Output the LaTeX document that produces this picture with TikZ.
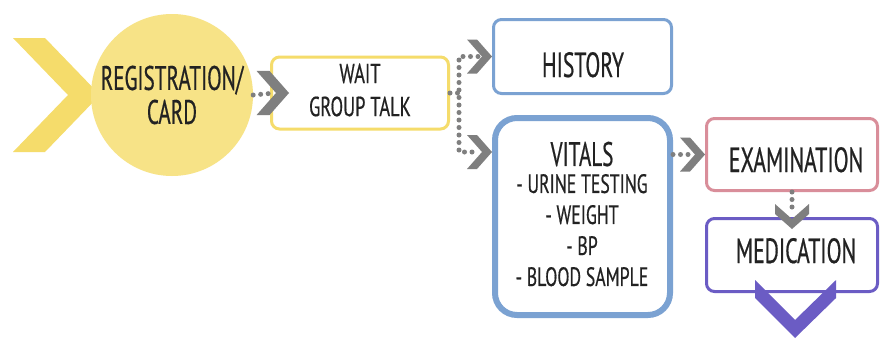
\documentclass[tikz,border=0pt]{standalone}
\usepackage{fontspec}
\newfontfamily\cnd{PT Sans}[FakeStretch=0.62,FakeBold=0.5]
\newfontfamily\cndw{PT Sans}[FakeStretch=0.67,FakeBold=0.5]
\usetikzlibrary{calc}
\definecolor{ylw}{HTML}{F5DC6B}
\definecolor{ylwc}{HTML}{F7E387}
\definecolor{blu}{HTML}{7BA2D2}
\definecolor{pnk}{HTML}{D98E9A}
\definecolor{prp}{HTML}{6B5CC4}
\definecolor{gry}{HTML}{7F7F7F}
\definecolor{ink}{HTML}{222222}
\tikzset{
  box/.style={draw, line width=3pt, rounded corners=8pt, fill=white, inner sep=0pt},
  dots/.style={draw=gry, line width=5pt, line cap=round, dash pattern=on 0pt off 7.5pt},
  maintxt/.style={font=\cnd\fontsize{35}{35}\selectfont, text=ink, inner sep=0pt, align=center},
  subtxt/.style={font=\cndw\fontsize{26.5}{31}\selectfont, text=ink, inner sep=0pt, align=center},
  waittxt/.style={font=\cndw\fontsize{27.5}{33}\selectfont, text=ink, inner sep=0pt, align=center},
  chev/.pic={\fill[gry] (-25,-17) -- (-15,-17) -- (0,0) -- (-15,17) -- (-25,17) -- (-10,0) -- cycle;}
}
\begin{document}
\begin{tikzpicture}[x=1pt,y=-1pt]
\useasboundingbox (0,0) rectangle (880,338);
\fill[white] (0,0) rectangle (880,338);
% entry chevron
\fill[ylw] (13,38) -- (45,38) -- (100,95) -- (45,152) -- (13,152) -- (68,95) -- cycle;
\node[circle, fill=ylwc, minimum size=162pt, inner sep=0pt, maintxt, font=\cnd\fontsize{34}{34}\selectfont] (reg) at (172,95) {REGISTRATION/\\CARD};
% boxes
\node[box, draw=ylw, minimum width=177pt, minimum height=72pt] (wait) at (360,93) {};
\node[box, draw=blu, minimum width=178pt, minimum height=74pt] (hist) at (582.5,56.5) {};
\node[box, draw=blu, line width=6pt, rounded corners=22pt, minimum width=175pt, minimum height=197pt] (vit) at (582.5,216.5) {};
\node[box, draw=pnk, minimum width=171pt, minimum height=72pt] (exam) at (792,154.5) {};
\node[box, draw=prp, minimum width=171pt, minimum height=73pt] (med) at (792,255) {};
% texts
\node[waittxt] (waitT) at (360,90) {WAIT\\GROUP TALK};
\node[maintxt, anchor=base] (histT) at (583,77) {HISTORY};
\node[subtxt] (vitT) at (582,214) {{\cnd\fontsize{34}{31}\selectfont VITALS}\\[-4pt]- URINE TESTING\\- WEIGHT\\- BP\\- BLOOD SAMPLE};
\node[maintxt, anchor=base] (examT) at (796,172) {EXAMINATION};
\node[maintxt, anchor=base] (medT) at (796,263) {MEDICATION};
% connectors
\draw[dots] (reg.east) -- ($(wait.west)+(5,0)$);
\pic[scale=1.3] at ($(wait.west)+(19,0)$) {chev};
\coordinate (br) at ($(wait.east)+(9,0)$);
\coordinate (vitin) at ($(vit.north west)+(0,37)$);
\draw[dots] (wait.east) -- (br);
\draw[dots] ($(hist.west)+(-14,0)$) -| (br) |- ($(vitin)+(-14,0)$);
\pic at (hist.west) {chev};
\pic at (vitin) {chev};
\draw[dots] (exam.west -| vit.east) -- ($(exam.west)+(-14,0)$);
\pic at (exam.west) {chev};
\draw[dots] (exam.south) -- ($(med.north)+(0,-5)$);
\pic[rotate=-90] at ($(med.north)+(0,12)$) {chev};
% exit chevron
\fill[prp] (755,280) -- (795,320) -- (836,280) -- (836,298) -- (795,338) -- (755,298) -- cycle;
\end{tikzpicture}
\end{document}
